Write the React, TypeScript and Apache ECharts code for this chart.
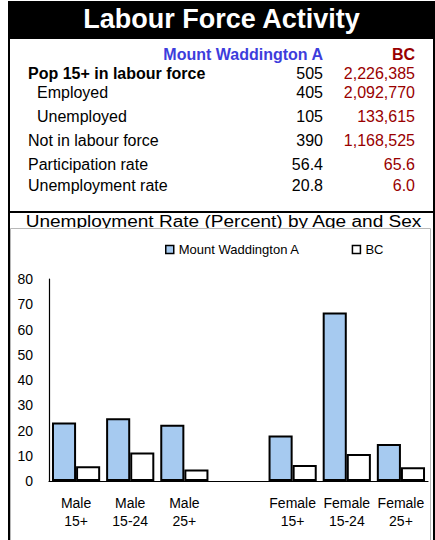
import React, { useEffect, useRef } from "react";
import * as echarts from "echarts";

// ---- Table data ----
const tableTitle = "Labour Force Activity";
const regionName = "Mount Waddington A";
const provinceName = "BC";
const rowLabels = [
  "Pop 15+ in labour force",
  "Employed",
  "Unemployed",
  "Not in labour force",
  "Participation rate",
  "Unemployment rate",
];
const regionValues = ["505", "405", "105", "390", "56.4", "20.8"];
const provinceValues = ["2,226,385", "2,092,770", "133,615", "1,168,525", "65.6", "6.0"];

// ---- Chart data ----
const chartTitle = "Unemployment Rate (Percent) by Age and Sex";
const categories = ["Male\n15+", "Male\n15-24", "Male\n25+", "", "Female\n15+", "Female\n15-24", "Female\n25+"];
const regionRates: (number | string)[] = [23.2, 24.9, 22.3, "-", 18.0, 66.7, 14.7];
const provinceRates: (number | string)[] = [5.8, 11.3, 4.6, "-", 6.3, 10.7, 5.4];

// ---- Layout (not data) ----
const rowY = [73.3, 92.5, 116.7, 140.5, 164.7, 185.3];
const rowX = [28, 37, 37, 28, 28, 28];
const rowBold = [true, false, false, false, false, false];

const FONT = "'Liberation Sans', Arial, sans-serif";

export default function App() {
  const ref = useRef<HTMLDivElement>(null);

  useEffect(() => {
    if (!ref.current) return;
    const chart = echarts.init(ref.current, undefined, { renderer: "svg" });

    const graphics: any[] = [];
    // black title band
    graphics.push({ type: "rect", shape: { x: 8, y: 1, width: 427, height: 38 }, style: { fill: "#000" }, z: 50 });
    graphics.push({
      type: "text", x: 221.5, y: 18.5, z: 51,
      style: { text: tableTitle, fill: "#fff", font: `bold 27px ${FONT}`, textAlign: "center", textVerticalAlign: "middle" },
    });
    // header
    graphics.push({
      type: "text", x: 323, y: 54.3, z: 51,
      style: { text: regionName, fill: "#3d3ddc", font: `bold 16px ${FONT}`, textAlign: "right", textVerticalAlign: "middle" },
    });
    graphics.push({
      type: "text", x: 415, y: 54.3, z: 51,
      style: { text: provinceName, fill: "#990000", font: `bold 16px ${FONT}`, textAlign: "right", textVerticalAlign: "middle" },
    });
    rowLabels.forEach((lab, i) => {
      graphics.push({
        type: "text", x: rowX[i], y: rowY[i], z: 51,
        style: { text: lab, fill: "#000", font: `${rowBold[i] ? "bold " : ""}16px ${FONT}`, textAlign: "left", textVerticalAlign: "middle" },
      });
      graphics.push({
        type: "text", x: 323, y: rowY[i], z: 51,
        style: { text: regionValues[i], fill: "#000", font: `16px ${FONT}`, textAlign: "right", textVerticalAlign: "middle" },
      });
      graphics.push({
        type: "text", x: 415, y: rowY[i], z: 51,
        style: { text: provinceValues[i], fill: "#990000", font: `16px ${FONT}`, textAlign: "right", textVerticalAlign: "middle" },
      });
    });
    // chart title (stretched)
    graphics.push({
      type: "text", x: 223.5, y: 221.5, scaleX: 1.19, z: 51,
      style: { text: chartTitle, fill: "#000", font: `16px ${FONT}`, textAlign: "center", textVerticalAlign: "middle" },
    });
    // clip descenders
    graphics.push({ type: "rect", shape: { x: 11, y: 228.5, width: 419, height: 8 }, style: { fill: "#fff" }, z: 60 });
    // chart area gray frame
    graphics.push({
      type: "rect", shape: { x: 10.5, y: 228.5, width: 420, height: 330 },
      style: { fill: "none", stroke: "#b8b8b8", lineWidth: 1 }, z: 61,
    });
    // outer borders
    graphics.push({ type: "line", shape: { x1: 9, y1: 1, x2: 9, y2: 540 }, style: { stroke: "#000", lineWidth: 2 }, z: 62 });
    graphics.push({ type: "line", shape: { x1: 434, y1: 1, x2: 434, y2: 540 }, style: { stroke: "#000", lineWidth: 2 }, z: 62 });
    graphics.push({ type: "line", shape: { x1: 8, y1: 212, x2: 435, y2: 212 }, style: { stroke: "#000", lineWidth: 2 }, z: 62 });

    chart.setOption({
      animation: false,
      backgroundColor: "#fff",
      textStyle: { fontFamily: FONT },
      graphic: { elements: graphics },
      legend: {
        data: [regionName, provinceName],
        left: 165,
        top: 243,
        padding: 0,
        itemWidth: 8,
        itemHeight: 8,
        itemGap: 52,
        icon: "rect",
        itemStyle: { borderColor: "#000", borderWidth: 1.5 },
        textStyle: { fontSize: 13, color: "#000", fontFamily: FONT },
      },
      grid: { left: 49, right: 7, top: 279, bottom: 59, containLabel: false },
      xAxis: {
        type: "category",
        data: categories,
        axisLine: { show: true, lineStyle: { color: "#000", width: 1.2 } },
        axisTick: { show: false },
        axisLabel: { interval: 0, fontSize: 14, lineHeight: 18, color: "#000", margin: 13, fontFamily: FONT },
        splitLine: { show: false },
      },
      yAxis: {
        type: "value",
        min: 0,
        max: 80,
        interval: 10,
        axisLine: { show: true, lineStyle: { color: "#000", width: 1.2 } },
        axisTick: { show: false },
        splitLine: { show: false },
        axisLabel: { fontSize: 14, color: "#000", margin: 16, fontFamily: FONT },
      },
      series: [
        {
          name: regionName,
          type: "bar",
          data: regionRates,
          barGap: "0%",
          barCategoryGap: "11%",
          itemStyle: { color: "#a6caf0", borderColor: "#000", borderWidth: 2 },
        },
        {
          name: provinceName,
          type: "bar",
          data: provinceRates,
          barGap: "0%",
          barCategoryGap: "11%",
          itemStyle: { color: "#ffffff", borderColor: "#000", borderWidth: 2 },
        },
      ],
    });

    return () => chart.dispose();
  }, []);

  return (
    <div
      ref={ref}
      style={{ position: "fixed", left: 0, top: 0, width: 435, height: 540, background: "#fff" }}
    />
  );
}
